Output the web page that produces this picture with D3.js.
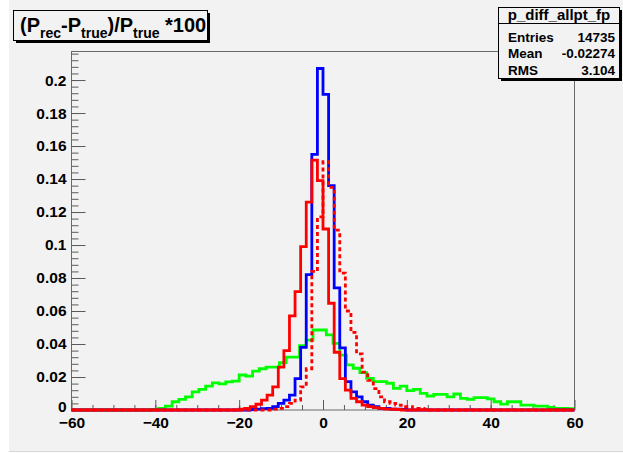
<!DOCTYPE html>
<html><head><meta charset="utf-8">
<script src="https://cdn.jsdelivr.net/npm/d3@7"></script>
<style>body{margin:0;background:#fff} svg{display:block}</style>
</head><body><svg id="c" width="623" height="453"></svg>
<script>
// ---------------- data ----------------
const xDomain = [-60, 60];
const yMax = 0.2176;
const xTickLabels = [-60, -40, -20, 0, 20, 40, 60];
const yTickLabels = [0, 0.02, 0.04, 0.06, 0.08, 0.1, 0.12, 0.14, 0.16, 0.18, 0.2];
const titleParts = [["(P", false], ["rec", true], ["-P", false], ["true", true], [")/P", false], ["true", true], [" *100", false]];
const histName = "p_diff_allpt_fp";
const statLabels = ["Entries", "Mean", "RMS"];
const statValues = ["14735", "-0.02274", "3.104"];

// histograms with 90 bins of width 4/3 on [-60,60]; values listed for bins starting at -20
const fineFirstEdge = -20;
const fineBinWidth = 4 / 3;
const blueVals = [0, 0, 0.0003, 0.0005, 0.0008, 0.001, 0.002, 0.004, 0.006, 0.009, 0.019, 0.038, 0.082, 0.155, 0.207, 0.1913, 0.136, 0.074, 0.0376, 0.0172, 0.011, 0.008, 0.005, 0.003, 0.002, 0.001, 0.001, 0.0005, 0.0005, 0.0003, 0, 0, 0, 0];
const redVals = [0.0005, 0.001, 0.002, 0.0035, 0.006, 0.009, 0.014, 0.026, 0.036, 0.057, 0.0717, 0.099, 0.126, 0.1515, 0.139, 0.1097, 0.0647, 0.035, 0.019, 0.012, 0.007, 0.005, 0.003, 0.002, 0.0015, 0.001, 0.0005, 0.0005, 0.0003, 0, 0, 0, 0, 0];
const redDashVals = [0, 0, 0, 0, 0, 0, 0.0005, 0.001, 0.002, 0.004, 0.006, 0.014, 0.025, 0.084, 0.117, 0.1505, 0.135, 0.109, 0.083, 0.060, 0.047, 0.034, 0.023, 0.018, 0.013, 0.008, 0.005, 0.004, 0.003, 0.002, 0.002, 0.001, 0.001, 0.0005];
// green histogram: 75 bins of width 1.6 on [-60,60]
const greenFirstEdge = -60;
const greenBinWidth = 1.6;
const greenVals = [0,0,0,0,0,0,0,0,0,0,0,0,
  0.0003, 0.001, 0.0024, 0.005, 0.0065, 0.008, 0.011, 0.0125, 0.0145, 0.0165, 0.0158, 0.017, 0.0175,
  0.0212, 0.0205, 0.0236, 0.025, 0.026, 0.026, 0.0287, 0.032, 0.032, 0.039, 0.0424, 0.0485, 0.0485,
  0.0455, 0.0404, 0.0333, 0.0273, 0.0253, 0.0226, 0.0192, 0.0172, 0.0172, 0.0162, 0.0131, 0.0145,
  0.0117, 0.0125, 0.0101, 0.0085, 0.0095, 0.0095, 0.008, 0.0097, 0.0071, 0.0065, 0.0075, 0.0075,
  0.0067, 0.005, 0.0036, 0.005, 0.005, 0.003, 0.003, 0.0024, 0.0024, 0.0016, 0.001, 0.001, 0.0008];

// ---------------- drawing ----------------
const svg = d3.select("#c");
const font = "'Liberation Sans', Arial, Helvetica, sans-serif";
const bg = "#f2f2f2";
svg.append("rect").attr("x", 9).attr("y", 0).attr("width", 614).attr("height", 451).attr("fill", bg);
svg.append("line").attr("x1", 9).attr("x2", 623).attr("y1", 451.5).attr("y2", 451.5).attr("stroke", "#d6d6d6");

const x = d3.scaleLinear().domain(xDomain).range([71.5, 574.5]);
const y = d3.scaleLinear().domain([0, yMax]).range([410, 51]);

// frame
svg.append("rect").attr("x", 71.5).attr("y", 51.5).attr("width", 503).attr("height", 358.5)
  .attr("fill", "none").attr("stroke", "#6a6a6a").attr("stroke-width", 1);

function tickAxis(axis, tx, ty) {
  const g = svg.append("g").attr("transform", `translate(${tx},${ty})`).call(axis);
  g.select(".domain").remove();
  g.selectAll("line").attr("stroke", "#5a5a5a");
  return g;
}
// y ticks (inside, pointing right)
tickAxis(d3.axisRight(y).tickValues(d3.range(0, yMax, 0.004)).tickSize(7).tickFormat(""), 71.5, 0);
tickAxis(d3.axisRight(y).tickValues(yTickLabels).tickSize(14).tickFormat(""), 71.5, 0);
// x ticks (inside, pointing up)
tickAxis(d3.axisTop(x).tickValues(d3.range(-55, 60, 5)).tickSize(5).tickFormat(""), 0, 410);
tickAxis(d3.axisTop(x).tickValues(xTickLabels).tickSize(10).tickFormat(""), 0, 410);

// labels
const yl = svg.append("g").attr("transform", "translate(71.5,0)")
  .call(d3.axisLeft(y).tickValues(yTickLabels).tickSize(0).tickPadding(5).tickFormat(d3.format("~g")));
yl.select(".domain").remove();
yl.selectAll("text").attr("font-family", font).attr("font-size", 15.5).attr("font-weight", "bold").attr("fill", "#000");
yl.selectAll(".tick").filter(d => d === 0).select("text").attr("dy", "0.12em");
const xl = svg.append("g").attr("transform", "translate(0,410)")
  .call(d3.axisBottom(x).tickValues(xTickLabels).tickSize(0).tickPadding(7).tickFormat(d3.format("d")));
xl.select(".domain").remove();
xl.selectAll("text").attr("font-family", font).attr("font-size", 15.5).attr("font-weight", "bold").attr("fill", "#000");

// histograms
function histPoints(vals, firstEdge, width, lo, hi) {
  const nBefore = Math.round((firstEdge - lo) / width);
  const total = Math.round((hi - lo) / width);
  const full = d3.range(total).map(i => {
    const j = i - nBefore;
    return (j >= 0 && j < vals.length) ? vals[j] : 0;
  });
  const pts = full.map((v, i) => [lo + i * width, v]);
  pts.push([hi, full[full.length - 1]]);
  return pts;
}
const line = d3.line().x(d => x(d[0])).y(d => y(d[1])).curve(d3.curveStepAfter);
const series = [
  {vals: greenVals, first: greenFirstEdge, w: greenBinWidth, color: "#00ff00", dash: null},
  {vals: blueVals, first: fineFirstEdge, w: fineBinWidth, color: "#0000ff", dash: null},
  {vals: redDashVals, first: fineFirstEdge, w: fineBinWidth, color: "#ff0000", dash: "4,3"},
  {vals: redVals, first: fineFirstEdge, w: fineBinWidth, color: "#ff0000", dash: null}
];
series.forEach(s => {
  svg.append("path").attr("d", line(histPoints(s.vals, s.first, s.w, xDomain[0], xDomain[1])))
    .attr("fill", "none").attr("stroke", s.color).attr("stroke-width", 2.8)
    .attr("stroke-dasharray", s.dash).attr("stroke-linejoin", "miter");
});

// title box
svg.append("rect").attr("x", 16).attr("y", 13).attr("width", 194).attr("height", 30).attr("fill", "#000");
svg.append("rect").attr("x", 13.5).attr("y", 10.5).attr("width", 194).attr("height", 30).attr("fill", bg).attr("stroke", "#000");
const tt = svg.append("text").attr("x", 20).attr("y", 32).attr("font-family", font).attr("font-weight", "bold").attr("font-size", 20);
let sub = false;
titleParts.forEach(([t, isSub]) => {
  const dy = isSub === sub ? 0 : (isSub ? 6 : -6);
  tt.append("tspan").attr("dy", dy).attr("font-size", isSub ? 14 : 20).text(t);
  sub = isSub;
});

// stats box
svg.append("rect").attr("x", 501).attr("y", 10).attr("width", 121).attr("height", 71).attr("fill", "#000");
svg.append("rect").attr("x", 498.5).attr("y", 7.5).attr("width", 121).attr("height", 71).attr("fill", bg).attr("stroke", "#000");
svg.append("line").attr("x1", 498.5).attr("x2", 619.5).attr("y1", 23.5).attr("y2", 23.5).attr("stroke", "#000");
svg.append("text").attr("x", 559).attr("y", 20).attr("text-anchor", "middle").attr("font-family", font)
  .attr("font-weight", "bold").attr("font-size", 15).text(histName);
const rowY = [41.5, 58, 75];
statLabels.forEach((lab, i) => {
  svg.append("text").attr("x", 508).attr("y", rowY[i]).attr("font-family", font).attr("font-weight", "bold").attr("font-size", 13.5).text(lab);
  svg.append("text").attr("x", 615).attr("y", rowY[i]).attr("text-anchor", "end").attr("font-family", font).attr("font-weight", "bold").attr("font-size", 13.5).text(statValues[i]);
});
</script></body></html>
